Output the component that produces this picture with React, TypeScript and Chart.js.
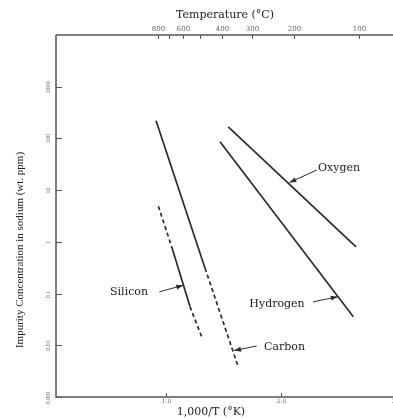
import React, { useEffect, useRef } from "react";
import { Chart, registerables } from "chart.js";
Chart.register(...registerables);

// Series (x = 1000/T in 1/K, y = wt. ppm)
const carbonX = [0.913, 1.339, 1.628];
const carbonY = [220, 0.31, 0.0038];
const siliconX = [0.933, 1.049, 1.208, 1.31];
const siliconY = [4.9, 0.8, 0.056, 0.0146];
const oxygenX = [1.541, 2.652];
const oxygenY = [168, 0.8];
const hydrogenX = [1.469, 2.628];
const hydrogenY = [86, 0.0356];

// Ticks
const xTicks = [1, 2, 3];
const xTickLabels = ["1.0", "2.0", "3.0"];
const yTicks = [0.001, 0.01, 0.1, 1, 10, 100, 1000];
const yTickLabels = ["0.001", "0.01", "0.1", "1", "10", "100", "1000"];
const tempTicks = [800, 700, 600, 500, 400, 300, 200, 100];
const tempTickLabels = ["800", "", "600", "", "400", "300", "200", "100"];

// Callout labels: text anchor and arrow (data coords)
const calloutNames = ["Oxygen", "Hydrogen", "Silicon", "Carbon"];
const calloutTextX = [2.321, 1.724, 0.513, 1.852];
const calloutTextY = [27, 0.063, 0.105, 0.0094];
const calloutFromX = [2.31, 2.278, 0.941, 1.788];
const calloutFromY = [24.5, 0.069, 0.108, 0.0097];
const calloutToX = [2.072, 2.493, 1.15, 1.591];
const calloutToY = [14, 0.087, 0.145, 0.0079];

const pts = (xs: number[], ys: number[]) => xs.map((x, i) => ({ x, y: ys[i] }));

const LINE = "#2b2b2b";
const AXIS = "#555";

const decor = {
  id: "decor",
  afterDraw(chart: any) {
    const ctx = chart.ctx as CanvasRenderingContext2D;
    const xs = chart.scales.x;
    const ys = chart.scales.y;
    const a = chart.chartArea;
    ctx.save();
    // axes lines
    ctx.strokeStyle = AXIS;
    ctx.lineWidth = 1.5;
    ctx.beginPath();
    ctx.moveTo(a.left, a.top);
    ctx.lineTo(a.right, a.top);
    ctx.moveTo(a.left, a.top);
    ctx.lineTo(a.left, a.bottom);
    ctx.lineTo(a.right, a.bottom);
    ctx.stroke();

    ctx.lineWidth = 1;
    ctx.fillStyle = "#666";
    ctx.font = "6px 'DejaVu Serif'";
    // bottom ticks
    xTicks.forEach((v, i) => {
      const px = Math.round(xs.getPixelForValue(v)) + 0.5;
      ctx.beginPath();
      ctx.moveTo(px, a.bottom);
      ctx.lineTo(px, a.bottom - 4);
      ctx.stroke();
      ctx.textAlign = "center";
      ctx.textBaseline = "top";
      ctx.fillText(xTickLabels[i], px, a.bottom + 1);
    });
    // top temperature ticks
    ctx.font = "7px 'DejaVu Serif'";
    tempTicks.forEach((t, i) => {
      const px = Math.round(xs.getPixelForValue(1000 / (t + 273))) + 0.5;
      ctx.beginPath();
      ctx.moveTo(px, a.top);
      ctx.lineTo(px, a.top + 4);
      ctx.stroke();
      if (tempTickLabels[i]) {
        ctx.textAlign = "center";
        ctx.textBaseline = "bottom";
        ctx.fillText(tempTickLabels[i], px, a.top - 2);
      }
    });
    // left ticks
    ctx.font = "6px 'Liberation Serif'";
    yTicks.forEach((v, i) => {
      const py = Math.round(ys.getPixelForValue(v)) + 0.5;
      ctx.beginPath();
      ctx.moveTo(a.left, py);
      ctx.lineTo(a.left + 6, py);
      ctx.stroke();
      ctx.save();
      ctx.translate(a.left - 8, py);
      ctx.rotate(-Math.PI / 2);
      ctx.textAlign = "center";
      ctx.textBaseline = "middle";
      ctx.fillText(yTickLabels[i], 0, 0);
      ctx.restore();
    });

    // titles
    ctx.fillStyle = "#222";
    ctx.font = "11px 'DejaVu Serif'";
    ctx.textAlign = "center";
    ctx.textBaseline = "middle";
    ctx.fillText("Temperature (°C)", 225, 15);
    ctx.fillText("1,000/T (°K)", 211, 412);
    ctx.save();
    ctx.translate(20, 250);
    ctx.rotate(-Math.PI / 2);
    ctx.font = "11px 'Liberation Serif'";
    ctx.fillText("Impurity Concentration in sodium (wt. ppm)", 0, 0);
    ctx.restore();

    // callouts
    ctx.font = "11px 'DejaVu Serif'";
    ctx.textAlign = "left";
    ctx.textBaseline = "middle";
    ctx.strokeStyle = LINE;
    calloutNames.forEach((name, i) => {
      const tx = xs.getPixelForValue(calloutTextX[i]);
      const ty = ys.getPixelForValue(calloutTextY[i]);
      ctx.fillStyle = "#222";
      ctx.fillText(name, tx, ty);
      const fx = xs.getPixelForValue(calloutFromX[i]);
      const fy = ys.getPixelForValue(calloutFromY[i]);
      const ex = xs.getPixelForValue(calloutToX[i]);
      const ey = ys.getPixelForValue(calloutToY[i]);
      ctx.lineWidth = 1;
      ctx.beginPath();
      ctx.moveTo(fx, fy);
      ctx.lineTo(ex, ey);
      ctx.stroke();
      const ang = Math.atan2(ey - fy, ex - fx);
      const L = 7, W = 2.5;
      ctx.fillStyle = LINE;
      ctx.beginPath();
      ctx.moveTo(ex, ey);
      ctx.lineTo(ex - L * Math.cos(ang) + W * Math.sin(ang), ey - L * Math.sin(ang) - W * Math.cos(ang));
      ctx.lineTo(ex - L * Math.cos(ang) - W * Math.sin(ang), ey - L * Math.sin(ang) + W * Math.cos(ang));
      ctx.closePath();
      ctx.fill();
    });
    ctx.restore();
  },
};

export default function App() {
  const ref = useRef<HTMLCanvasElement | null>(null);
  useEffect(() => {
    if (!ref.current) return;
    const common = {
      borderColor: LINE,
      borderWidth: 1.7,
      pointRadius: 0,
      fill: false,
      tension: 0,
    };
    const chart = new Chart(ref.current, {
      type: "line",
      data: {
        datasets: [
          {
            ...common,
            label: "Carbon",
            data: pts(carbonX, carbonY),
            segment: { borderDash: (c: any) => (c.p0DataIndex === 1 ? [4, 3] : undefined) },
          },
          {
            ...common,
            label: "Silicon",
            data: pts(siliconX, siliconY),
            segment: { borderDash: (c: any) => (c.p0DataIndex === 1 ? undefined : [4, 3]) },
          },
          { ...common, label: "Oxygen", data: pts(oxygenX, oxygenY) },
          { ...common, label: "Hydrogen", data: pts(hydrogenX, hydrogenY) },
        ] as any,
      },
      options: {
        animation: false,
        responsive: false,
        layout: { padding: { left: 56, top: 35, right: 0, bottom: 21 } },
        plugins: { legend: { display: false }, tooltip: { enabled: false } },
        scales: {
          x: { type: "linear", min: 0.043, max: 3.121, display: false },
          y: { type: "logarithmic", min: 0.001, max: 10000, display: false },
        },
      } as any,
      plugins: [decor],
    });
    return () => chart.destroy();
  }, []);
  return (
    <div style={{ position: "fixed", left: 0, top: 0, width: 393, height: 418, overflow: "hidden", background: "#fff" }}>
      <canvas ref={ref} width={410} height={418} style={{ width: 410, height: 418, display: "block" }} />
    </div>
  );
}
